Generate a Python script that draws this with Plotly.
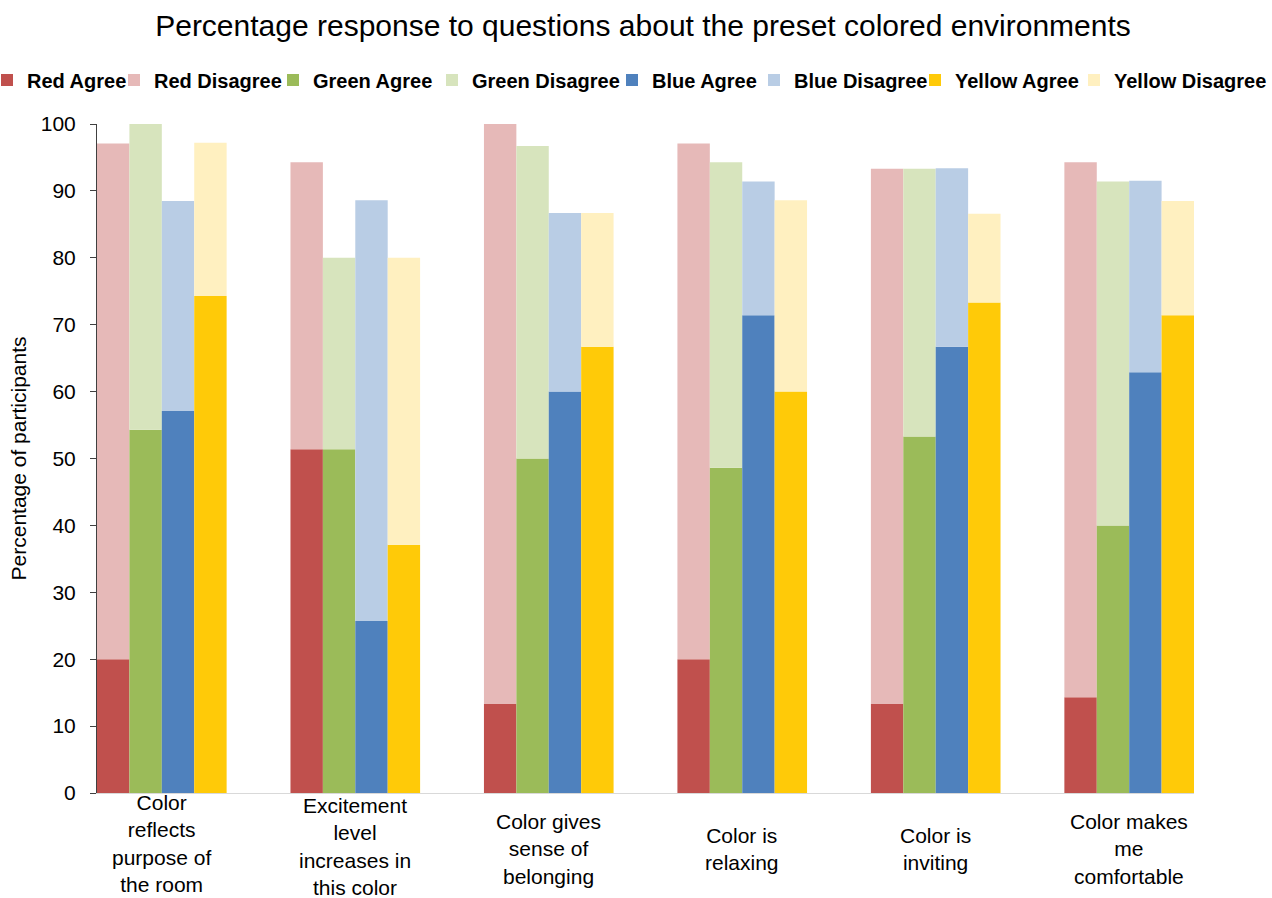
import plotly.graph_objects as go

# Survey questions (x categories)
categories = [
    "Color reflects purpose of the room",
    "Excitement level increases in this color",
    "Color gives sense of belonging",
    "Color is relaxing",
    "Color is inviting",
    "Color makes me comfortable",
]
category_lines = [
    ["Color", "reflects", "purpose of", "the room"],
    ["Excitement", "level", "increases in", "this color"],
    ["Color gives", "sense of", "belonging"],
    ["Color is", "relaxing"],
    ["Color is", "inviting"],
    ["Color makes", "me", "comfortable"],
]

# Percentage of participants agreeing / disagreeing, per environment colour
red_agree = [20.0, 51.4, 13.3, 20.0, 13.3, 14.3]
red_disagree = [77.1, 42.9, 86.7, 77.1, 80.0, 80.0]
green_agree = [54.3, 51.4, 50.0, 48.6, 53.3, 40.0]
green_disagree = [45.7, 28.6, 46.7, 45.7, 40.0, 51.4]
blue_agree = [57.1, 25.7, 60.0, 71.4, 66.7, 62.9]
blue_disagree = [31.4, 62.9, 26.7, 20.0, 26.7, 28.6]
yellow_agree = [74.3, 37.1, 66.7, 60.0, 73.3, 71.4]
yellow_disagree = [22.9, 42.9, 20.0, 28.6, 13.3, 17.1]

y_ticks = [0, 10, 20, 30, 40, 50, 60, 70, 80, 90, 100]

series = [
    ("Red", red_agree, red_disagree, "#C0504D", "#E6B9B8"),
    ("Green", green_agree, green_disagree, "#9BBB59", "#D7E4BD"),
    ("Blue", blue_agree, blue_disagree, "#4F81BD", "#B9CDE5"),
    ("Yellow", yellow_agree, yellow_disagree, "#FFCA08", "#FFF0C0"),
]

FONT = "Liberation Sans, Arial, sans-serif"
W, H = 1272, 898
M_L, M_R, M_T, M_B = 97, 78, 124, 105
plot_w = W - M_L - M_R
plot_h = H - M_T - M_B


def px_to_paper_x(px):
    return (px - M_L) / plot_w


def px_to_paper_y(py):
    return (H - M_B - py) / plot_h


fig = go.Figure()

# left edge (px) of each one-item legend box
legend_left_px = [-13, 114, 273, 432, 612, 754, 915, 1074]
legend_names = ["legend"] + [f"legend{i}" for i in range(2, 9)]

k = 0
for name, agree, disagree, c_agree, c_dis in series:
    fig.add_trace(go.Bar(
        x=categories, y=agree, name=f"{name} Agree",
        marker=dict(color=c_agree, line=dict(width=0)),
        offsetgroup=name, legend=legend_names[k],
    ))
    k += 1
    fig.add_trace(go.Bar(
        x=categories, y=disagree, base=agree, name=f"{name} Disagree",
        marker=dict(color=c_dis, line=dict(width=0)),
        offsetgroup=name, legend=legend_names[k],
    ))
    k += 1

legend_font = dict(family=FONT, size=20, color="#000000", weight="bold")
legend_layouts = {}
for lname, lpx in zip(legend_names, legend_left_px):
    legend_layouts[lname] = dict(
        x=px_to_paper_x(lpx), xanchor="left",
        y=px_to_paper_y(80), yanchor="middle",
        orientation="h", font=legend_font,
        bgcolor="rgba(0,0,0,0)", borderwidth=0,
        itemclick=False, itemdoubleclick=False,
    )

# vertical centre (px) of each multi-line category label
label_centre_px = [843, 846, 849, 849, 849, 849]
annotations = []
for cat, lines, cy in zip(categories, category_lines, label_centre_px):
    annotations.append(dict(
        x=cat, xref="x", y=px_to_paper_y(cy), yref="paper",
        text="<br>".join(lines), showarrow=False,
        xanchor="center", yanchor="middle", align="center",
        font=dict(family=FONT, size=21, color="#000000"),
    ))

fig.update_layout(
    width=W, height=H,
    margin=dict(l=M_L, r=M_R, t=M_T, b=M_B, autoexpand=False),
    paper_bgcolor="white", plot_bgcolor="white",
    barmode="group", bargap=0.33, bargroupgap=0,
    showlegend=True,
    title=dict(
        text="Percentage response to questions about the preset colored environments",
        x=643 / W, xref="container", xanchor="center",
        y=1 - 25 / H, yref="container", yanchor="middle",
        font=dict(family=FONT, size=30, color="#000000"),
    ),
    font=dict(family=FONT, color="#000000"),
    annotations=annotations,
    **legend_layouts,
)

fig.update_xaxes(
    range=[-0.335, len(categories) - 1 + 0.335],
    showticklabels=False, ticks="",
    showline=True, linecolor="#D9D9D9", linewidth=1,
    showgrid=False, zeroline=False, fixedrange=True,
)
fig.update_yaxes(
    range=[0, 100], tickvals=y_ticks,
    ticks="outside", ticklen=6, tickcolor="#404040", tickwidth=1,
    ticklabelstandoff=10,
    tickfont=dict(family=FONT, size=21, color="#000000"),
    showline=True, linecolor="#404040", linewidth=1,
    showgrid=False, zeroline=False, fixedrange=True,
    title=dict(text="Percentage of participants",
               font=dict(family=FONT, size=21, color="#000000"), standoff=8),
)

fig.write_html("out.html")
